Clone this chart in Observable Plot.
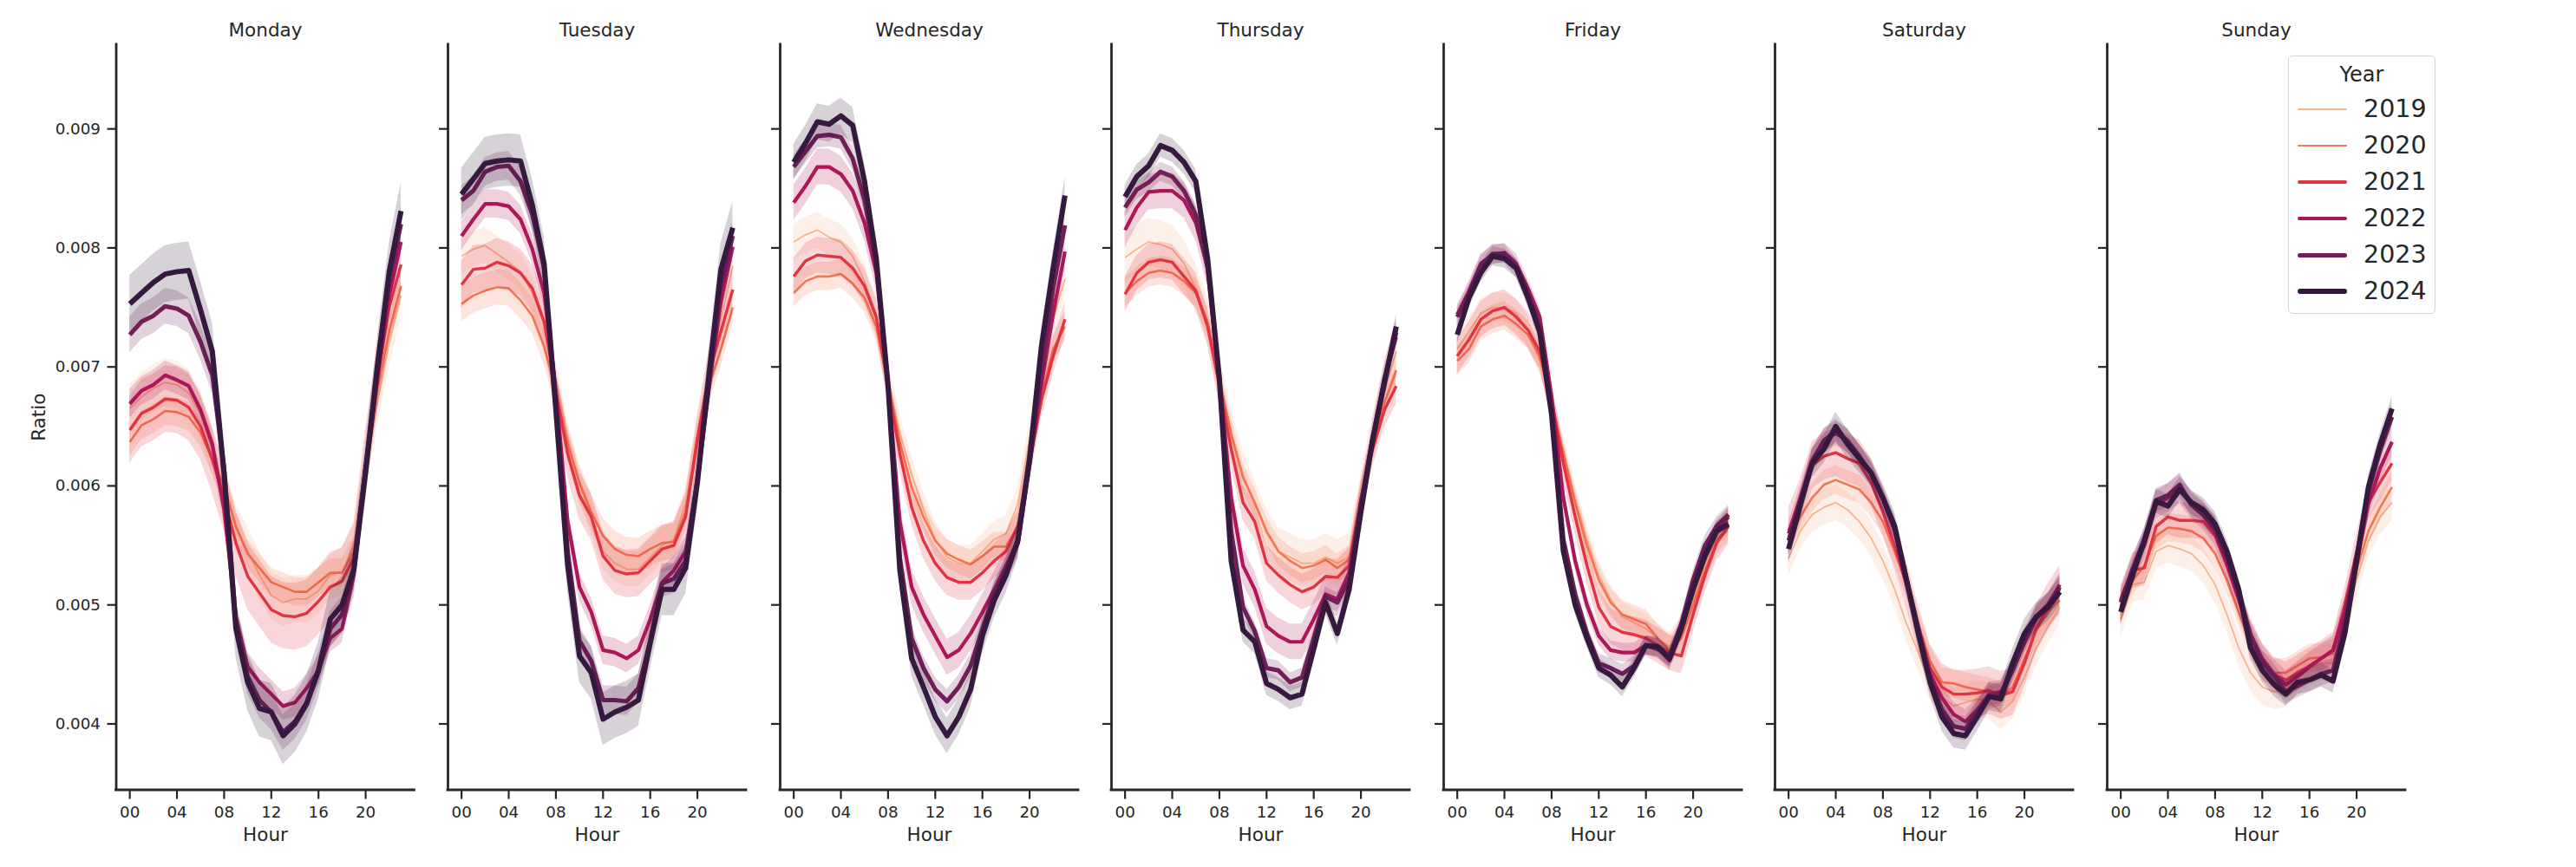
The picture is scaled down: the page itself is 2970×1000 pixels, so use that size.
<!DOCTYPE html>
<html>
<head>
<meta charset="utf-8">
<script src="https://cdn.jsdelivr.net/npm/d3@7"></script>
<script src="https://cdn.jsdelivr.net/npm/@observablehq/plot@0.6"></script>
<style>
  html, body { margin: 0; padding: 0; background: #ffffff; }
  #root { position: relative; width: 2970px; height: 1000px; overflow: hidden; font-family: "DejaVu Sans", sans-serif; color: #262626; }
  .panel { position: absolute; top: 0; }
  .legend { position: absolute; left: 2638px; top: 64px; width: 170px; height: 298px; box-sizing: border-box;
            border: 1.6px solid #d4d4d4; border-radius: 5px; background: rgba(255,255,255,0.85); }
  .legend .ttl { position: absolute; left: 0; width: 100%; text-align: center; font-size: 24px; line-height: 24px; }
  .legend .sw { position: absolute; left: 10px; width: 57px; border-radius: 4px; }
  .legend .lb { position: absolute; left: 86px; font-size: 28.5px; line-height: 30px; }
</style>
</head>
<body>
<div id="root"></div>
<script>
// ---- data (Ratio values in thousandths, i.e. ×0.001) ----
const days = ["Monday", "Tuesday", "Wednesday", "Thursday", "Friday", "Saturday", "Sunday"];
const years = [2019, 2020, 2021, 2022, 2023, 2024];
const hours = d3.range(24);
const xTicks = [0, 4, 8, 12, 16, 20];
const yTicks = [0.004, 0.005, 0.006, 0.007, 0.008, 0.009];
const colors = ["#f6b48f", "#f37651", "#e13342", "#ad1759", "#701f57", "#35193e"];
const lineWidths = [1.8, 2.6, 3.4, 4.2, 5, 6];

// rows: 2019, 2020, 2021, 2022, 2023, 2024 ; columns: hour 0..23
const monday = [
  [6.65,6.75,6.82,6.87,6.85,6.78,6.60,6.30,5.95,5.65,5.45,5.25,5.08,5.02,5.05,5.05,5.12,5.25,5.28,5.50,6.10,6.70,7.20,7.60],
  [6.37,6.51,6.56,6.63,6.62,6.58,6.45,6.22,6.00,5.66,5.43,5.31,5.19,5.15,5.11,5.11,5.19,5.27,5.27,5.45,6.10,6.80,7.30,7.68],
  [6.47,6.61,6.66,6.73,6.72,6.66,6.50,6.22,5.90,5.52,5.24,5.10,4.96,4.91,4.90,4.93,5.03,5.15,5.20,5.40,6.20,6.90,7.50,7.86],
  [6.69,6.80,6.85,6.93,6.89,6.84,6.64,6.35,5.80,4.90,4.48,4.35,4.25,4.15,4.18,4.30,4.45,4.72,4.80,5.25,6.10,6.90,7.60,8.05],
  [7.27,7.38,7.43,7.51,7.49,7.43,7.21,6.93,6.15,4.85,4.40,4.20,4.10,3.93,4.02,4.18,4.45,4.80,4.92,5.30,6.15,6.95,7.75,8.20],
  [7.53,7.62,7.71,7.78,7.80,7.81,7.48,7.13,6.10,4.80,4.35,4.13,4.10,3.90,4.00,4.17,4.45,4.88,5.00,5.30,6.12,7.01,7.80,8.31]
];
const tuesday = [
  [7.93,7.99,8.02,7.95,7.88,7.80,7.62,7.35,6.90,6.40,6.00,5.75,5.45,5.35,5.30,5.30,5.40,5.50,5.55,5.85,6.40,6.90,7.40,7.85],
  [7.53,7.60,7.64,7.67,7.66,7.56,7.43,7.17,6.80,6.35,6.03,5.78,5.58,5.47,5.42,5.41,5.47,5.52,5.53,5.78,6.35,6.85,7.15,7.50],
  [7.69,7.82,7.83,7.88,7.85,7.79,7.66,7.38,6.80,6.27,5.92,5.74,5.41,5.29,5.26,5.27,5.37,5.47,5.50,5.74,6.40,6.95,7.30,7.65],
  [8.10,8.24,8.37,8.37,8.35,8.24,7.99,7.62,6.80,5.70,5.15,4.94,4.62,4.60,4.55,4.62,4.88,5.19,5.29,5.45,6.05,6.85,7.55,8.01],
  [8.40,8.48,8.64,8.68,8.69,8.56,8.28,7.83,6.70,5.45,4.70,4.53,4.20,4.20,4.19,4.30,4.70,5.18,5.22,5.37,6.05,6.85,7.70,8.10],
  [8.45,8.58,8.71,8.73,8.74,8.73,8.36,7.87,6.64,5.33,4.57,4.43,4.04,4.10,4.14,4.20,4.68,5.13,5.13,5.31,6.03,6.95,7.82,8.17]
];
const wednesday = [
  [8.05,8.11,8.15,8.09,8.05,7.93,7.72,7.44,6.90,6.45,6.10,5.80,5.55,5.40,5.35,5.35,5.45,5.55,5.60,5.85,6.40,6.95,7.40,7.74],
  [7.62,7.72,7.76,7.76,7.78,7.70,7.58,7.34,6.85,6.37,5.99,5.74,5.54,5.43,5.38,5.34,5.41,5.49,5.49,5.66,6.20,6.75,7.15,7.34],
  [7.76,7.89,7.94,7.93,7.92,7.83,7.68,7.42,6.84,6.27,5.82,5.54,5.35,5.23,5.19,5.19,5.27,5.37,5.45,5.66,6.19,6.72,7.09,7.40],
  [8.38,8.52,8.68,8.68,8.62,8.48,8.21,7.79,6.85,5.70,5.15,4.92,4.74,4.56,4.62,4.76,4.94,5.13,5.33,5.54,6.19,6.85,7.45,7.97],
  [8.68,8.81,8.94,8.95,8.93,8.75,8.40,7.87,6.85,5.40,4.72,4.47,4.29,4.19,4.31,4.49,4.80,5.09,5.29,5.52,6.19,6.95,7.66,8.19],
  [8.72,8.88,9.06,9.04,9.11,9.03,8.56,7.91,6.84,5.29,4.55,4.31,4.06,3.90,4.06,4.29,4.74,5.04,5.25,5.54,6.23,7.17,7.83,8.44]
];
const thursday = [
  [7.92,7.99,8.05,8.03,7.99,7.87,7.66,7.38,6.90,6.45,6.10,5.85,5.60,5.45,5.40,5.35,5.35,5.40,5.35,5.40,5.90,6.40,6.80,7.13],
  [7.62,7.72,7.79,7.81,7.79,7.72,7.62,7.38,6.90,6.44,6.07,5.86,5.62,5.45,5.37,5.31,5.33,5.38,5.31,5.38,5.90,6.35,6.70,6.97],
  [7.61,7.79,7.88,7.90,7.88,7.76,7.64,7.34,6.84,6.31,5.86,5.70,5.35,5.25,5.17,5.11,5.15,5.24,5.23,5.33,5.90,6.31,6.64,6.84],
  [8.15,8.34,8.47,8.48,8.48,8.40,8.21,7.83,6.90,5.90,5.33,5.13,4.82,4.74,4.69,4.69,4.88,5.09,5.05,5.27,5.85,6.40,6.90,7.25],
  [8.34,8.49,8.55,8.64,8.60,8.48,8.28,7.83,6.90,5.62,4.98,4.78,4.47,4.45,4.35,4.39,4.72,5.07,5.02,5.21,5.85,6.40,6.90,7.29],
  [8.43,8.60,8.69,8.86,8.82,8.72,8.56,7.91,6.90,5.37,4.79,4.69,4.34,4.29,4.22,4.25,4.63,5.02,4.76,5.13,5.78,6.39,6.87,7.34]
];
const friday = [
  [7.15,7.30,7.45,7.50,7.50,7.45,7.30,7.05,6.70,6.30,5.90,5.55,5.25,5.05,4.90,4.85,4.80,4.72,4.65,4.78,5.05,5.35,5.60,5.70],
  [7.05,7.15,7.34,7.40,7.43,7.36,7.27,7.09,6.70,6.27,5.86,5.50,5.21,5.02,4.92,4.88,4.84,4.72,4.62,4.72,5.00,5.29,5.54,5.66],
  [7.09,7.23,7.40,7.47,7.50,7.42,7.31,7.13,6.72,6.19,5.74,5.33,4.98,4.82,4.77,4.75,4.72,4.66,4.60,4.57,4.92,5.25,5.52,5.66],
  [7.44,7.64,7.87,7.94,7.96,7.87,7.66,7.42,6.75,5.90,5.37,5.00,4.74,4.62,4.60,4.60,4.66,4.64,4.53,4.78,5.15,5.43,5.62,5.74],
  [7.42,7.62,7.85,7.95,7.95,7.83,7.62,7.34,6.65,5.55,5.09,4.76,4.51,4.47,4.42,4.49,4.66,4.63,4.57,4.84,5.21,5.50,5.66,5.76],
  [7.27,7.58,7.79,7.93,7.91,7.83,7.58,7.29,6.60,5.45,5.00,4.72,4.47,4.41,4.31,4.47,4.66,4.65,4.55,4.80,5.13,5.41,5.62,5.68]
];
const saturday = [
  [5.39,5.62,5.76,5.82,5.86,5.80,5.70,5.56,5.37,5.13,4.84,4.60,4.35,4.23,4.15,4.18,4.21,4.19,4.10,4.19,4.39,4.64,4.82,4.98],
  [5.54,5.74,5.90,6.01,6.05,6.01,5.97,5.86,5.70,5.45,5.17,4.84,4.53,4.35,4.34,4.31,4.29,4.27,4.23,4.31,4.55,4.78,4.94,5.04],
  [5.62,5.86,6.17,6.25,6.28,6.23,6.19,6.03,5.78,5.49,5.17,4.80,4.47,4.31,4.25,4.25,4.26,4.28,4.24,4.27,4.51,4.80,4.98,5.13],
  [5.60,5.90,6.22,6.38,6.44,6.38,6.25,6.10,5.88,5.62,5.20,4.80,4.42,4.22,4.08,4.02,4.12,4.25,4.27,4.45,4.68,4.88,5.00,5.17],
  [5.54,5.85,6.20,6.38,6.46,6.38,6.25,6.10,5.90,5.65,5.22,4.80,4.38,4.12,3.98,3.96,4.10,4.22,4.25,4.45,4.70,4.90,5.00,5.15],
  [5.47,5.84,6.19,6.31,6.50,6.35,6.23,6.11,5.90,5.66,5.21,4.76,4.35,4.06,3.92,3.90,4.06,4.23,4.21,4.51,4.76,4.90,4.98,5.11]
];
const sunday = [
  [4.88,5.17,5.19,5.45,5.50,5.47,5.43,5.33,5.17,4.92,4.64,4.43,4.31,4.27,4.29,4.39,4.47,4.51,4.51,4.84,5.21,5.54,5.74,5.86],
  [4.96,5.20,5.33,5.58,5.65,5.64,5.62,5.56,5.43,5.21,4.94,4.68,4.49,4.43,4.43,4.49,4.55,4.56,4.59,4.92,5.29,5.62,5.82,5.99],
  [4.98,5.29,5.31,5.66,5.74,5.71,5.71,5.70,5.58,5.33,5.04,4.74,4.53,4.41,4.37,4.43,4.49,4.55,4.62,5.00,5.45,5.86,6.03,6.19],
  [5.04,5.30,5.50,5.84,5.90,5.97,5.84,5.75,5.62,5.35,5.05,4.75,4.55,4.42,4.33,4.40,4.48,4.55,4.62,4.95,5.35,5.85,6.15,6.37],
  [5.02,5.30,5.55,5.88,5.92,6.01,5.84,5.76,5.65,5.40,5.10,4.75,4.52,4.40,4.27,4.32,4.37,4.42,4.45,4.85,5.40,5.95,6.30,6.58],
  [4.94,5.25,5.54,5.87,5.83,5.97,5.86,5.80,5.68,5.45,5.13,4.64,4.45,4.33,4.25,4.35,4.37,4.41,4.36,4.76,5.37,5.99,6.35,6.65]
];
// 95% CI half-widths (thousandths), per year 2019..2024
const ciMonday    = [0.20, 0.12, 0.28, 0.12, 0.15, 0.24];
const ciTuesday   = [0.15, 0.15, 0.20, 0.12, 0.12, 0.22];
const ciWednesday = [0.15, 0.12, 0.15, 0.15, 0.10, 0.15];
const ciThursday  = [0.20, 0.12, 0.15, 0.15, 0.08, 0.10];
const ciFriday    = [0.12, 0.12, 0.15, 0.08, 0.08, 0.08];
const ciSaturday  = [0.15, 0.12, 0.20, 0.10, 0.10, 0.12];
const ciSunday    = [0.15, 0.12, 0.15, 0.12, 0.10, 0.10];

const dayValues = [monday, tuesday, wednesday, thursday, friday, saturday, sunday];
const dayCI = [ciMonday, ciTuesday, ciWednesday, ciThursday, ciFriday, ciSaturday, ciSunday];

// ---- layout ----
const xDomain = [-1.15, 24.15];
const yDomain = [0.003446, 0.009708];
const INK = "#262626";
const FONT = "DejaVu Sans";
const panelW = 344;
const firstSpine = 133.5;
const step = 382.5;

const root = document.getElementById("root");

days.forEach((day, di) => {
  const rows = [];
  years.forEach((yr, j) => {
    hours.forEach(h => {
      const v = dayValues[di][j][h];
      const c = dayCI[di][j];
      rows.push({day, year: yr, hour: h, v: v / 1000, lo: (v - c) / 1000, hi: (v + c) / 1000});
    });
  });
  const ml = di === 0 ? firstSpine : 40;
  const marks = [];
  years.forEach((yr, j) => {
    const sub = rows.filter(r => r.year === yr);
    marks.push(Plot.areaY(sub, {x: "hour", y1: "lo", y2: "hi", fill: colors[j], fillOpacity: 0.2}));
    marks.push(Plot.lineY(sub, {x: "hour", y: "v", stroke: colors[j], strokeWidth: lineWidths[j],
      strokeLinejoin: "round", strokeLinecap: "butt"}));
  });
  marks.push(Plot.axisY(yTicks, {tickSize: 10, tickPadding: 8, strokeWidth: 2.2, stroke: INK, color: INK,
    fontSize: 18.3, label: null, tickFormat: di === 0 ? d3.format(".3f") : () => ""}));
  marks.push(Plot.axisX(xTicks, {tickSize: 11, tickPadding: 8, strokeWidth: 2.2, stroke: INK, color: INK,
    fontSize: 18.3, label: null, tickFormat: d => String(d).padStart(2, "0")}));
  marks.push(Plot.ruleX([xDomain[0]], {y1: yDomain[0], y2: yDomain[1], stroke: INK, strokeWidth: 2.8, strokeLinecap: "square"}));
  marks.push(Plot.ruleY([yDomain[0]], {x1: xDomain[0], x2: xDomain[1], stroke: INK, strokeWidth: 2.8, strokeLinecap: "square"}));
  marks.push(Plot.text([day], {text: d => d, frameAnchor: "top", lineAnchor: "middle", textAnchor: "middle",
    dy: -16.5, fontSize: 21.5, fill: INK}));
  marks.push(Plot.text(["Hour"], {text: d => d, frameAnchor: "bottom", lineAnchor: "middle", textAnchor: "middle",
    dy: 52, fontSize: 21.5, fill: INK}));
  if (di === 0) {
    marks.push(Plot.text(["Ratio"], {text: d => d, frameAnchor: "left", lineAnchor: "middle", textAnchor: "middle",
      dx: -89, rotate: -90, fontSize: 21.5, fill: INK}));
  }
  const svg = Plot.plot({
    width: ml + panelW,
    height: 1000,
    marginLeft: ml,
    marginRight: 0,
    marginTop: 51,
    marginBottom: 89.5,
    style: {background: "transparent", fontFamily: FONT, color: INK, overflow: "visible"},
    x: {domain: xDomain, label: null},
    y: {domain: yDomain, label: null},
    marks
  });
  const wrap = document.createElement("div");
  wrap.className = "panel";
  wrap.style.left = (firstSpine + di * step - ml) + "px";
  wrap.appendChild(svg);
  root.appendChild(wrap);
});

// ---- legend ----
const legend = document.createElement("div");
legend.className = "legend";
const ttl = document.createElement("div");
ttl.className = "ttl";
ttl.style.top = (21 - 12) + "px";
ttl.textContent = "Year";
legend.appendChild(ttl);
years.forEach((yr, j) => {
  const cy = 61 + j * 42;
  const sw = document.createElement("div");
  sw.className = "sw";
  sw.style.top = (cy - lineWidths[j] / 2) + "px";
  sw.style.height = lineWidths[j] + "px";
  sw.style.background = colors[j];
  legend.appendChild(sw);
  const lb = document.createElement("div");
  lb.className = "lb";
  lb.style.top = (cy - 15) + "px";
  lb.textContent = String(yr);
  legend.appendChild(lb);
});
root.appendChild(legend);
</script>
</body>
</html>
